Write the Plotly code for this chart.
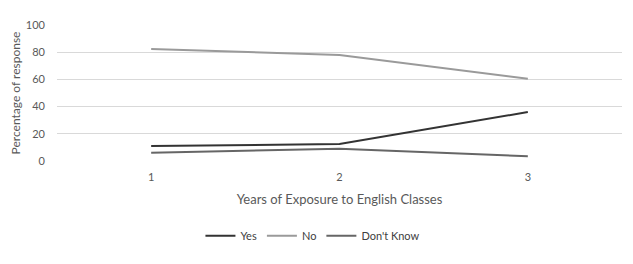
import plotly.graph_objects as go

years = [1, 2, 3]
yes = [11, 12.5, 36]
no = [82.3, 78, 60.5]
dont_know = [6, 9, 3.5]
y_ticks = [0, 20, 40, 60, 80, 100]

font = "Lato, Carlito, Calibri, sans-serif"
fig = go.Figure()
fig.add_trace(go.Scatter(x=years, y=yes, mode="lines", name="Yes",
                         line=dict(color="#333333", width=2)))
fig.add_trace(go.Scatter(x=years, y=no, mode="lines", name="No",
                         line=dict(color="#9a9a9a", width=2)))
fig.add_trace(go.Scatter(x=years, y=dont_know, mode="lines", name="Don't Know",
                         line=dict(color="#666666", width=2)))

fig.update_layout(
    width=633, height=264,
    margin=dict(l=49, r=19, t=17, b=111, autoexpand=False),
    paper_bgcolor="white", plot_bgcolor="white",
    font=dict(family=font, size=11, color="#595959"),
    showlegend=True,
    legend=dict(orientation="h", x=0.453, xanchor="center", y=-0.55, yanchor="middle",
                font=dict(size=11, color="#404040"), itemwidth=30,
                traceorder="normal"),
    xaxis=dict(range=[0.5, 3.5], tickvals=years, showgrid=False, zeroline=False,
               showline=False, ticks="", tickfont=dict(size=11), automargin=False,
               ticklabelstandoff=8,
               title=dict(text="Years of Exposure to English Classes",
                          font=dict(size=13, color="#595959"), standoff=12)),
    yaxis=dict(range=[0, 100], tickvals=y_ticks, showgrid=True, gridcolor="#d9d9d9",
               gridwidth=1, zeroline=False, showline=False, ticks="", automargin=False,
               tickfont=dict(size=11), ticklabelstandoff=11,
               title=dict(text="Percentage of response",
                          font=dict(size=12, color="#595959"), standoff=14)),
)
fig.write_html("out.html")
